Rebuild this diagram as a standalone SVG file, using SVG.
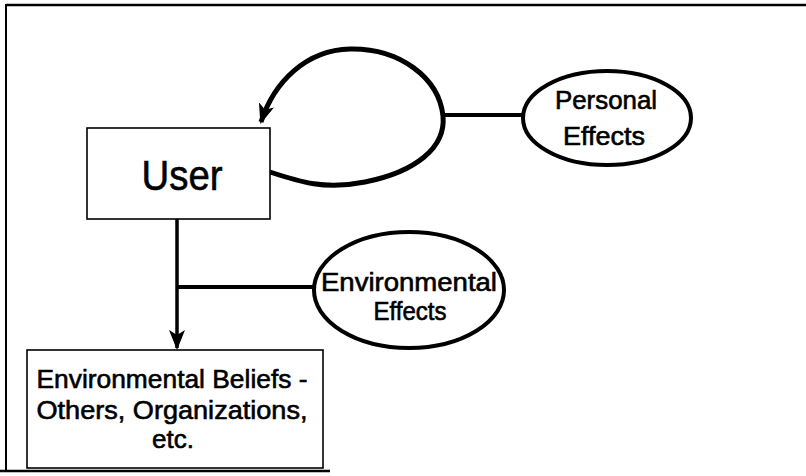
<svg xmlns="http://www.w3.org/2000/svg" width="806" height="476" viewBox="0 0 806 476">
  <style>
    .box { fill: #ffffff; stroke: #000000; stroke-width: 1.6; }
    .oval { fill: #ffffff; stroke: #000000; stroke-width: 4; }
    .lbl { font-family: "Liberation Sans", Arial, Helvetica, sans-serif; fill: #000000; stroke: #000000; stroke-width: 0.6; text-anchor: middle; }
    .wire { fill: none; stroke: #000000; stroke-linecap: butt; }
    .frame { fill: none; stroke: #000000; }
  </style>
  <defs>
    <marker id="head" viewBox="0 0 20 16" refX="18" refY="8" markerWidth="20" markerHeight="16" markerUnits="userSpaceOnUse" orient="auto">
      <path d="M0,0 L20,8 L0,16 L5,8 Z" fill="#000000"/>
    </marker>
  </defs>

  <rect width="806" height="476" fill="#ffffff"/>

  <!-- outer frame -->
  <g id="frame">
    <path class="frame" d="M6,5 H806" stroke-width="2.5"/>
    <path class="frame" d="M6,4 V472" stroke-width="2"/>
    <path class="frame" d="M0,471 H330" stroke-width="2.5"/>
  </g>

  <!-- connectors -->
  <g id="connectors">
    <!-- feedback loop from User back into User -->
    <path class="wire" stroke-width="5" d="M270,172 C300,182 325,190 365,182 C415,172 446,148 443,116 C439,78 400,48 350,49 C306,50 274,82 261,122" marker-end="url(#head)"/>
    <!-- loop to Personal Effects -->
    <path class="wire" stroke-width="4" d="M443,115 H524"/>
    <!-- User down to Environmental Beliefs -->
    <path class="wire" stroke-width="3.5" d="M177,219 V348" marker-end="url(#head)"/>
    <!-- trunk to Environmental Effects -->
    <path class="wire" stroke-width="4" d="M177,287 H314"/>
  </g>

  <g id="user">
    <rect class="box" x="87" y="128" width="183" height="91"/>
    <text class="lbl" x="182" y="190" font-size="43" textLength="81" lengthAdjust="spacingAndGlyphs">User</text>
  </g>

  <g id="personal-effects">
    <ellipse class="oval" cx="607" cy="118" rx="84" ry="47"/>
    <text class="lbl" x="606" y="109" font-size="25" textLength="102" lengthAdjust="spacingAndGlyphs">Personal</text>
    <text class="lbl" x="604" y="145" font-size="25" textLength="82" lengthAdjust="spacingAndGlyphs">Effects</text>
  </g>

  <g id="environmental-effects">
    <ellipse class="oval" cx="409" cy="290" rx="95" ry="58"/>
    <text class="lbl" x="409" y="291" font-size="25" textLength="176" lengthAdjust="spacingAndGlyphs">Environmental</text>
    <text class="lbl" x="410" y="320" font-size="25" textLength="73" lengthAdjust="spacingAndGlyphs">Effects</text>
  </g>

  <g id="environmental-beliefs">
    <rect class="box" x="27" y="350" width="296" height="118"/>
    <text class="lbl" x="172" y="388" font-size="26" textLength="271" lengthAdjust="spacingAndGlyphs">Environmental Beliefs -</text>
    <text class="lbl" x="172" y="419" font-size="26" textLength="271" lengthAdjust="spacingAndGlyphs">Others, Organizations,</text>
    <text class="lbl" x="173" y="448" font-size="26">etc.</text>
  </g>
</svg>
